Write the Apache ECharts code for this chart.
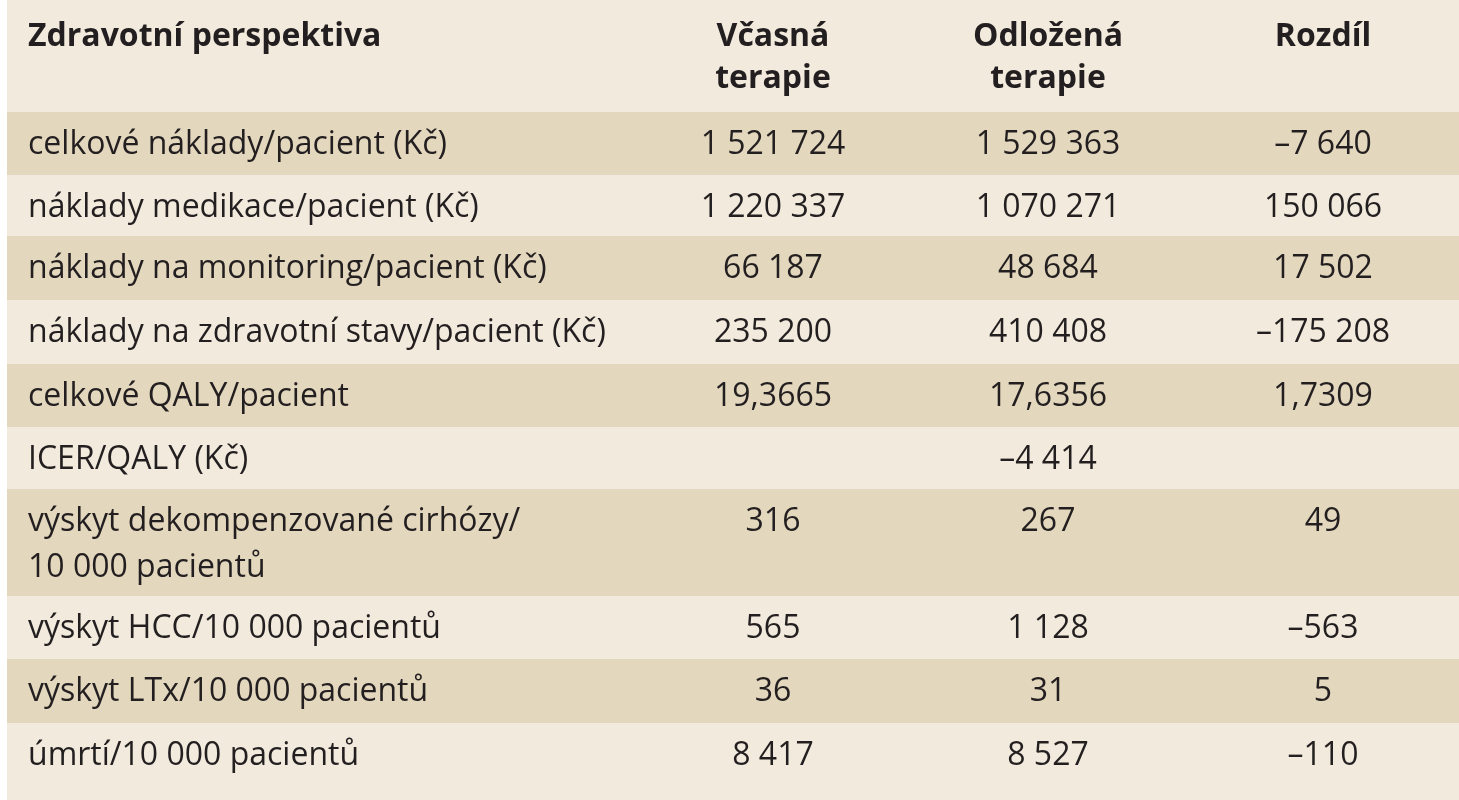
<!DOCTYPE html>
<html><head><meta charset="utf-8">
<script src="https://cdn.jsdelivr.net/npm/echarts@6/dist/echarts.min.js"></script>
<style>html,body{margin:0;padding:0;background:#f2eadc}#c{width:1459px;height:800px}</style>
</head><body><div id="c"></div>
<script>
var headers = ["Zdravotní perspektiva", "Včasná\nterapie", "Odložená\nterapie", "Rozdíl"];
var rowLabels = ["celkové náklady/pacient (Kč)", "náklady medikace/pacient (Kč)", "náklady na monitoring/pacient (Kč)", "náklady na zdravotní stavy/pacient (Kč)", "celkové QALY/pacient", "ICER/QALY (Kč)", "výskyt dekompenzované cirhózy/\n10 000 pacientů", "výskyt HCC/10 000 pacientů", "výskyt LTx/10 000 pacientů", "úmrtí/10 000 pacientů"];
var early = ["1 521 724", "1 220 337", "66 187", "235 200", "19,3665", "", "316", "565", "36", "8 417"];
var delayed = ["1 529 363", "1 070 271", "48 684", "410 408", "17,6356", "–4 414", "267", "1 128", "31", "8 527"];
var diff = ["–7 640", "150 066", "17 502", "–175 208", "1,7309", "", "49", "–563", "5", "–110"];

var bounds = [0, 112, 175, 236, 300, 364, 427, 489, 596, 659, 723, 800];
var colX = [28, 773, 1048, 1323];
var FONT = '"Open Sans", sans-serif';
var data = [];
for (var i = 0; i <= rowLabels.length; i++) data.push([i]);

function renderItem(params, api) {
  var r = api.value(0);
  var top = api.coord([0, bounds[r]]), bot = api.coord([1459, bounds[r + 1]]);
  var left = api.coord([7, 0])[0];
  var cells = r === 0 ? headers : [rowLabels[r - 1], early[r - 1], delayed[r - 1], diff[r - 1]];
  var fill = (r === 0 || r % 2 === 0) ? '#f2eadc' : '#e3d7bd';
  var children = [{type: 'rect', shape: {x: left, y: top[1], width: bot[0] - left, height: bot[1] - top[1]}, style: {fill: fill}}];
  var textTop = r === 0 ? top[1] + 16 : top[1] + 10;
  for (var c = 0; c < 4; c++) {
    var x = api.coord([colX[c], 0])[0];
    children.push({type: 'text', x: x, y: textTop, style: {
      text: cells[c], fill: '#231f20', font: (r === 0 ? 'bold ' : '') + '32px ' + FONT,
      align: c === 0 ? 'left' : 'center', verticalAlign: 'top', lineHeight: r === 0 ? 42 : 46
    }});
  }
  return {type: 'group', children: children};
}

var chart = echarts.init(document.getElementById('c'));
chart.setOption({
  animation: false,
  backgroundColor: '#ffffff',
  grid: {left: 0, right: 0, top: 0, bottom: 0},
  xAxis: {type: 'value', min: 0, max: 1459, show: false},
  yAxis: {type: 'value', min: 0, max: 800, inverse: true, show: false},
  series: [{type: 'custom', renderItem: renderItem, data: data, clip: false}]
});
</script></body></html>
